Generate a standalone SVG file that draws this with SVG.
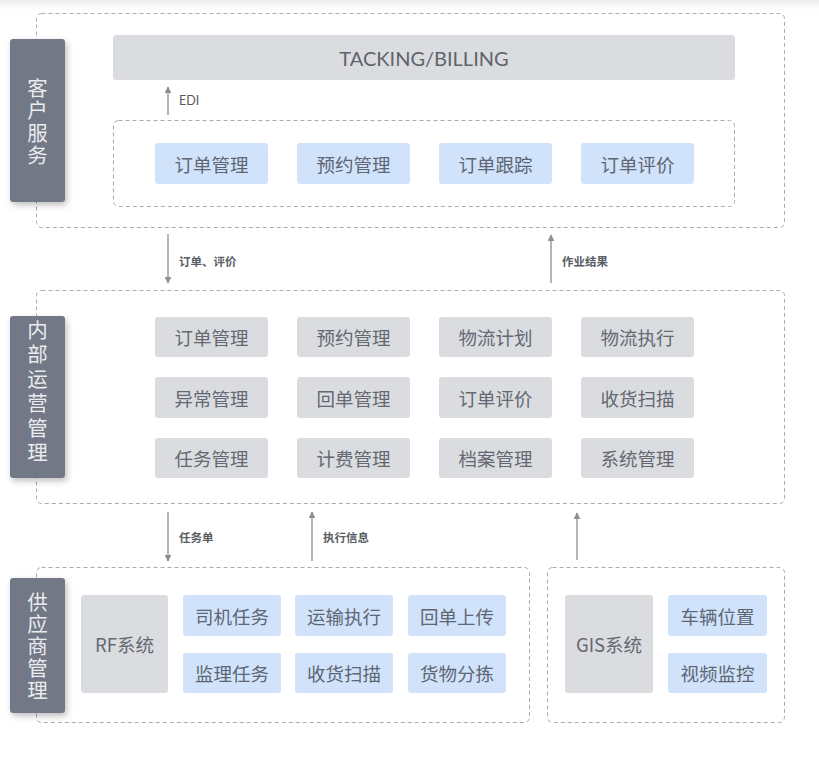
<svg xmlns="http://www.w3.org/2000/svg" width="819" height="762" viewBox="0 0 819 762">
<defs>
  <linearGradient id="topfade" x1="0" y1="0" x2="0" y2="1">
    <stop offset="0" stop-color="#ececec"/>
    <stop offset="1" stop-color="#ffffff"/>
  </linearGradient>
  <filter id="shadow" x="-30%" y="-10%" width="170%" height="130%">
    <feDropShadow dx="2" dy="3" stdDeviation="3" flood-color="#000" flood-opacity="0.25"/>
  </filter>
  <marker id="arr" viewBox="0 0 10 10" refX="9" refY="5" markerWidth="7" markerHeight="7" markerUnits="userSpaceOnUse" orient="auto">
    <path d="M0,0 L10,5 L0,10 z" fill="#8c8f94"/>
  </marker>
  <style>
    .dash{fill:#fff;stroke:#a9abae;stroke-width:1;stroke-dasharray:4 3}
    .dashin{fill:none;stroke:#a9abae;stroke-width:1;stroke-dasharray:4 3}
    .lbl{fill:#727886}
    .lbltxt{fill:#e9ebef;font-family:"Noto Sans CJK SC","Noto Sans",sans-serif;font-size:20.5px;text-anchor:middle;writing-mode:vertical-rl}
    .gray{fill:#dbdcdf}
    .blue{fill:#d0e3fb}
    .t{font-family:"Noto Sans CJK SC","Noto Sans",sans-serif;font-size:18.5px;text-anchor:middle;dominant-baseline:central;fill:#636873}
    .tb{font-family:"Noto Sans CJK SC","Noto Sans",sans-serif;font-size:18.5px;text-anchor:middle;dominant-baseline:central;fill:#5e6673}
    .sm{font-family:"Noto Sans CJK SC","Noto Sans",sans-serif;font-size:11.5px;dominant-baseline:central;fill:#585d64;font-weight:bold}
    .edi{font-family:"Lato","Noto Sans",sans-serif;font-size:12.5px;dominant-baseline:central;fill:#555a61}
    .conn{stroke:#9a9ca0;stroke-width:1.5;fill:none}
  </style>
</defs>
<rect x="0" y="0" width="819" height="762" fill="#fff"/>
<rect x="0" y="0" width="819" height="10" fill="url(#topfade)"/>

<!-- Customer service layer -->
<g id="layer-customer">
  <rect class="dash" x="36.5" y="13.5" width="748" height="214" rx="5"/>
  <g id="label-customer" filter="url(#shadow)">
    <rect class="lbl" x="10" y="39" width="55" height="163" rx="3"/>
  </g>
  <text class="lbltxt" x="37.5" y="122.5" letter-spacing="1.8">客户服务</text>
  <g id="billing">
    <rect class="gray" x="113" y="35" width="622" height="45" rx="3"/>
    <text x="424" y="57.5" font-family="Lato,'Noto Sans',sans-serif" font-size="20" fill="#5f646c" text-anchor="middle" dominant-baseline="central">TACKING/BILLING</text>
  </g>
  <rect class="dashin" x="113.5" y="120.5" width="621" height="86" rx="5"/>
  <g id="c-order"><rect class="blue" x="155" y="143" width="113" height="41" rx="3"/><text class="tb" x="211.5" y="163.5">订单管理</text></g>
  <g id="c-appoint"><rect class="blue" x="297" y="143" width="113" height="41" rx="3"/><text class="tb" x="353.5" y="163.5">预约管理</text></g>
  <g id="c-track"><rect class="blue" x="439" y="143" width="113" height="41" rx="3"/><text class="tb" x="495.5" y="163.5">订单跟踪</text></g>
  <g id="c-eval"><rect class="blue" x="581" y="143" width="113" height="41" rx="3"/><text class="tb" x="637.5" y="163.5">订单评价</text></g>
</g>

<!-- Internal operations layer -->
<g id="layer-internal">
  <rect class="dash" x="36.5" y="290.5" width="748" height="213" rx="5"/>
  <g id="label-internal" filter="url(#shadow)">
    <rect class="lbl" x="10" y="316" width="55" height="162" rx="3"/>
  </g>
  <text class="lbltxt" x="37.5" y="393" letter-spacing="4">内部运营管理</text>
  <g id="i-order"><rect class="gray" x="155" y="317" width="113" height="40" rx="3"/><text class="t" x="211.5" y="337">订单管理</text></g>
  <g id="i-appoint"><rect class="gray" x="297" y="317" width="113" height="40" rx="3"/><text class="t" x="353.5" y="337">预约管理</text></g>
  <g id="i-plan"><rect class="gray" x="439" y="317" width="113" height="40" rx="3"/><text class="t" x="495.5" y="337">物流计划</text></g>
  <g id="i-exec"><rect class="gray" x="581" y="317" width="113" height="40" rx="3"/><text class="t" x="637.5" y="337">物流执行</text></g>
  <g id="i-except"><rect class="gray" x="155" y="377" width="113" height="41" rx="3"/><text class="t" x="211.5" y="397.5">异常管理</text></g>
  <g id="i-receipt"><rect class="gray" x="297" y="377" width="113" height="41" rx="3"/><text class="t" x="353.5" y="397.5">回单管理</text></g>
  <g id="i-eval"><rect class="gray" x="439" y="377" width="113" height="41" rx="3"/><text class="t" x="495.5" y="397.5">订单评价</text></g>
  <g id="i-scan"><rect class="gray" x="581" y="377" width="113" height="41" rx="3"/><text class="t" x="637.5" y="397.5">收货扫描</text></g>
  <g id="i-task"><rect class="gray" x="155" y="438" width="113" height="40" rx="3"/><text class="t" x="211.5" y="458">任务管理</text></g>
  <g id="i-fee"><rect class="gray" x="297" y="438" width="113" height="40" rx="3"/><text class="t" x="353.5" y="458">计费管理</text></g>
  <g id="i-archive"><rect class="gray" x="439" y="438" width="113" height="40" rx="3"/><text class="t" x="495.5" y="458">档案管理</text></g>
  <g id="i-system"><rect class="gray" x="581" y="438" width="113" height="40" rx="3"/><text class="t" x="637.5" y="458">系统管理</text></g>
</g>

<!-- Supplier layer -->
<g id="layer-supplier">
  <rect class="dash" x="36.5" y="567.5" width="493" height="155" rx="5"/>
  <g id="label-supplier" filter="url(#shadow)">
    <rect class="lbl" x="10" y="578" width="55" height="135" rx="3"/>
  </g>
  <text class="lbltxt" x="37.5" y="647" letter-spacing="1.7">供应商管理</text>
  <g id="rf"><rect class="gray" x="81" y="595" width="87" height="98" rx="3"/><text class="t" x="124.5" y="644">RF系统</text></g>
  <g id="s-driver"><rect class="blue" x="183" y="595" width="98" height="41" rx="3"/><text class="tb" x="232" y="615.5">司机任务</text></g>
  <g id="s-transport"><rect class="blue" x="295" y="595" width="98" height="41" rx="3"/><text class="tb" x="344" y="615.5">运输执行</text></g>
  <g id="s-upload"><rect class="blue" x="408" y="595" width="98" height="41" rx="3"/><text class="tb" x="457" y="615.5">回单上传</text></g>
  <g id="s-supervise"><rect class="blue" x="183" y="653" width="98" height="40" rx="3"/><text class="tb" x="232" y="673">监理任务</text></g>
  <g id="s-scan"><rect class="blue" x="295" y="653" width="98" height="40" rx="3"/><text class="tb" x="344" y="673">收货扫描</text></g>
  <g id="s-sort"><rect class="blue" x="408" y="653" width="98" height="40" rx="3"/><text class="tb" x="457" y="673">货物分拣</text></g>
</g>

<g id="layer-gis">
  <rect class="dash" x="547.5" y="567.5" width="237" height="155" rx="5"/>
  <g id="gis"><rect class="gray" x="565" y="595" width="88" height="98" rx="3"/><text class="t" x="609" y="644">GIS系统</text></g>
  <g id="g-vehicle"><rect class="blue" x="668" y="595" width="99" height="41" rx="3"/><text class="tb" x="717.5" y="615.5">车辆位置</text></g>
  <g id="g-video"><rect class="blue" x="668" y="653" width="99" height="40" rx="3"/><text class="tb" x="717.5" y="673">视频监控</text></g>
</g>

<!-- Connectors -->
<g id="connectors">
  <line class="conn" x1="168" y1="115" x2="168" y2="87" marker-end="url(#arr)"/>
  <text class="edi" x="179" y="100.5">EDI</text>
  <line class="conn" x1="168" y1="234" x2="168" y2="283" marker-end="url(#arr)"/>
  <text class="sm" x="179" y="261">订单、评价</text>
  <line class="conn" x1="551" y1="283" x2="551" y2="235" marker-end="url(#arr)"/>
  <text class="sm" x="562" y="261">作业结果</text>
  <line class="conn" x1="168" y1="512" x2="168" y2="561" marker-end="url(#arr)"/>
  <text class="sm" x="179" y="537">任务单</text>
  <line class="conn" x1="312" y1="561" x2="312" y2="512" marker-end="url(#arr)"/>
  <text class="sm" x="323" y="537">执行信息</text>
  <line class="conn" x1="577" y1="560" x2="577" y2="513" marker-end="url(#arr)"/>
</g>
</svg>
